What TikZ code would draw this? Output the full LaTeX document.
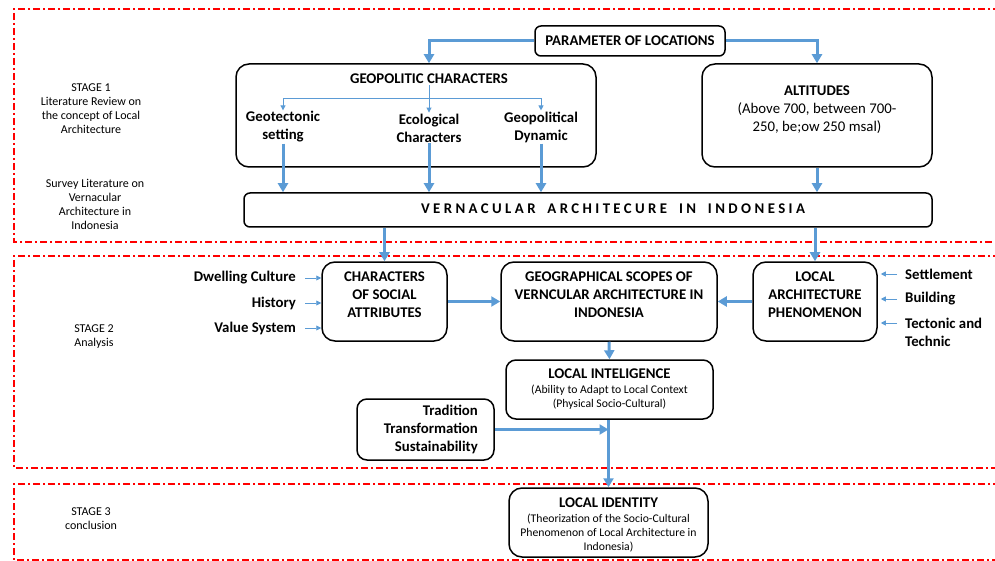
\documentclass[tikz,border=0pt]{standalone}
\usepackage{fontspec}
\setmainfont{Carlito}
\usetikzlibrary{arrows.meta,positioning}
\definecolor{flowblue}{RGB}{91,155,213}
\newcommand{\bigtxt}{\fontsize{14.8}{18}\selectfont}
\newcommand{\smalltxt}{\fontsize{11.7}{14}\selectfont}
\newcommand{\stagetxt}{\fontsize{12}{14}\selectfont}

\begin{document}
\begin{tikzpicture}[x=1pt,y=-1pt,
  box/.style={draw,line width=1.5pt,rounded corners=13pt,fill=white,inner sep=0pt},
  sbox/.style={box,rounded corners=6pt},
  btxt/.style={font=\bigtxt\bfseries,align=center,inner sep=1pt},
  ntxt/.style={font=\bigtxt,align=center,inner sep=1pt},
  stxt/.style={font=\smalltxt,align=center,inner sep=1pt},
  stagelbl/.style={font=\stagetxt,align=center,inner sep=1pt},
  barrow/.style={draw=flowblue,line width=3pt,-{Triangle[length=9pt,width=10pt]}},
  tarrow/.style={draw=flowblue,line width=0.9pt,-{Triangle[length=5pt,width=5pt]}},
  stageframe/.style={draw=red,line width=1.3pt,dash pattern=on 7pt off 3pt on 2pt off 3pt}]
\useasboundingbox (0,0) rectangle (995,561);

% stage frames
\draw[stageframe] (1000,9) -| (14,242) -- (1000,242);
\draw[stageframe] (1000,256) -| (14,468) -- (1000,468);
\draw[stageframe] (1000,484) -| (14,560) -- (1000,560);
\node[stagelbl] (st1) at (91,109) {STAGE 1\\Literature Review on\\the concept of Local\\Architecture};
\node[stagelbl] (st1b) at (95,204) {Survey Literature on\\Vernacular\\Architecture in\\Indonesia};
\node[stagelbl] (st2) at (94,337) {STAGE 2\\Analysis};
\node[stagelbl] (st3) at (91,519) {STAGE 3\\conclusion};

% stage 1
\node[sbox,minimum width=190,minimum height=30,font=\bigtxt\bfseries] (param) at (630,41) {PARAMETER OF LOCATIONS};
\node[box,minimum width=360,minimum height=103] (geo) at (416,115.5) {};
\node[btxt] (geotitle) at (429,79) {GEOPOLITIC CHARACTERS};
\node[btxt] (geotec) at (283,127) {Geotectonic\\setting};
\node[btxt] (ecol) at (429,128) {Ecological\\Characters};
\node[btxt] (geopol) at (541,127) {Geopolitical\\Dynamic};
\coordinate (gsplit) at (429,98);
\node[box,minimum width=230,minimum height=103] (alt) at (817,115.5) {};
\node[ntxt] (alttxt) at (817,110) {\textbf{ALTITUDES}\\(Above 700, between 700-\\250, be;ow 250 msal)};
\node[sbox,minimum width=688,minimum height=34] (vern) at (588,210) {};
\node[btxt] (verntxt) at (613,209) {\addfontfeatures{LetterSpace=23}VERNACULAR\hspace{0.8em}ARCHITECURE\hspace{0.8em}IN\hspace{0.8em}INDONESIA};

\draw[barrow] (param.west) -| (geotitle.north |- geo.north);
\draw[barrow] (param.east) -| (alt.north);
\draw[tarrow] (gsplit) -| (geotec.north);
\draw[tarrow] (gsplit) -| (geopol.north);
\draw[tarrow] (geotitle.south) -- (ecol.north);
\draw[barrow] (geotec.south) -- (geotec.south |- vern.north);
\draw[barrow] (ecol.south) -- (ecol.south |- vern.north);
\draw[barrow] (geopol.south) -- (geopol.south |- vern.north);
\draw[barrow] (alt.south) -- (alt.south |- vern.north);

% stage 2
\node[box,minimum width=125,minimum height=79] (soc) at (384.5,301.5) {};
\node[btxt] (soctxt) at (384.5,295) {CHARACTERS\\OF SOCIAL\\ATTRIBUTES};
\node[box,minimum width=216,minimum height=79] (scope) at (609,301.5) {};
\node[btxt] (scopetxt) at (609,295) {GEOGRAPHICAL SCOPES OF\\VERNCULAR ARCHITECTURE IN\\INDONESIA};
\node[box,minimum width=124,minimum height=79] (locarch) at (815,301.5) {};
\node[btxt] (locarchtxt) at (815,295) {LOCAL\\ARCHITECTURE\\PHENOMENON};
\node[btxt,anchor=east] (dwell) at (297,278) {Dwelling Culture};
\node[btxt,anchor=east] (hist) at (297,303) {History};
\node[btxt,anchor=east] (valsys) at (297,328) {Value System};
\node[btxt,anchor=west] (settl) at (904,274) {Settlement};
\node[btxt,anchor=west] (build) at (904,299) {Building};
\node[btxt,anchor=west,align=left] (tecton) at (904,332) {Tectonic and\\Technic};
\node[sbox,minimum width=207,minimum height=59,rounded corners=10pt] (intel) at (609.5,389.5) {};
\node[btxt] (inteltitle) at (609.5,374) {LOCAL INTELIGENCE};
\node[stxt] (intelsub) at (609.5,397) {(Ability to Adapt to Local Context\\(Physical Socio-Cultural)};
\node[box,minimum width=137,minimum height=61,rounded corners=10pt] (trad) at (425.5,429.5) {};
\node[btxt,anchor=east,align=right] (tradtxt) at (479,429) {Tradition\\Transformation\\Sustainability};

\draw[barrow] (vern.south -| soc.north) -- (soc.north);
\draw[barrow] (vern.south -| locarch.north) -- (locarch.north);
\draw[barrow] (soc.east) -- (scope.west);
\draw[barrow] (locarch.west) -- (scope.east);
\draw[barrow] (scope.south) -- (intel.north);
\draw[tarrow] ([xshift=8pt]dwell.east) -- (dwell -| soc.west);
\draw[tarrow] ([xshift=8pt]hist.east) -- (hist -| soc.west);
\draw[tarrow] ([xshift=8pt]valsys.east) -- (valsys -| soc.west);
\draw[tarrow] ([xshift=-7pt]settl.west) -- ([xshift=3pt]settl -| locarch.east);
\draw[tarrow] ([xshift=-7pt]build.west) -- ([xshift=3pt]build -| locarch.east);
\draw[tarrow] ([xshift=-7pt,yshift=9pt]tecton.west) -- ([xshift=3pt,yshift=9pt]tecton.west -| locarch.east);

% stage 3
\node[box,minimum width=199,minimum height=69] (ident) at (608.5,522.5) {};
\node[btxt] (identtitle) at (608.5,503) {LOCAL IDENTITY};
\node[stxt] (identsub) at (608.5,533) {(Theorization of the Socio-Cultural\\Phenomenon of Local Architecture in\\Indonesia)};

\draw[barrow] (intel.south -| ident.north) -- (ident.north);
\draw[barrow] (trad.east) -- (trad.east -| ident.north);
\end{tikzpicture}
\end{document}
